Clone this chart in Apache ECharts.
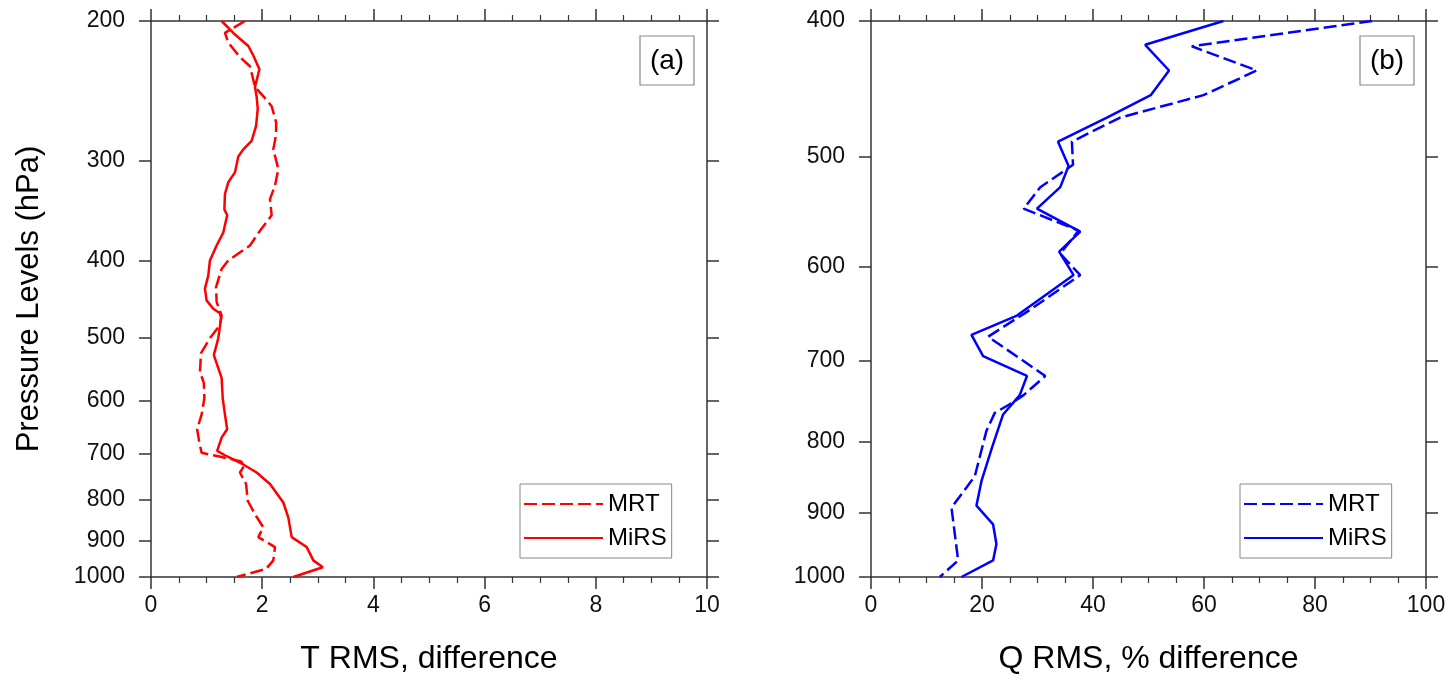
<!DOCTYPE html>
<html>
<head>
<meta charset="utf-8">
<script src="https://cdn.jsdelivr.net/npm/echarts@6/dist/echarts.min.js"></script>
<style>
html,body{margin:0;padding:0;background:#fff;}
#chart{width:1455px;height:680px;}
</style>
</head>
<body>
<div id="chart"></div>
<script>
// ---------- Data ----------
// Panel (a): temperature RMS difference vs pressure (hPa)
const tMirsP = [200,208,215,221,230,242,249,258,271,283,290,296,310,319,330,345,351,369,383,400,418,434,449,460,466,473,501,526,562,596,625,652,668,694,705,722,739,764,806,842,891,917,953,972,1000];
const tMirsX = [1.27,1.51,1.75,1.84,1.95,1.87,1.90,1.92,1.89,1.81,1.66,1.57,1.51,1.39,1.33,1.32,1.37,1.30,1.18,1.06,1.03,0.97,1.00,1.12,1.24,1.26,1.21,1.13,1.27,1.29,1.33,1.37,1.27,1.19,1.36,1.66,1.90,2.14,2.38,2.47,2.53,2.80,2.92,3.09,2.56];
const tMrtP = [200,207,213,222,228,242,250,256,268,278,290,307,322,335,351,367,383,400,410,432,451,469,482,501,523,552,570,596,625,652,678,698,705,715,722,739,764,802,834,866,891,917,953,977,1000];
const tMrtX = [1.69,1.33,1.39,1.60,1.78,1.87,2.05,2.17,2.25,2.25,2.20,2.29,2.23,2.14,2.17,1.96,1.78,1.39,1.27,1.17,1.18,1.27,1.24,1.06,0.90,0.88,0.95,0.96,0.91,0.83,0.87,0.91,1.21,1.60,1.69,1.60,1.71,1.74,1.87,2.02,1.93,2.23,2.20,2.07,1.54];

// Panel (b): humidity RMS % difference vs pressure (hPa)
const qMirsP = [400,416,434,452,469,488,508,526,545,566,585,608,650,671,695,718,741,765,808,854,889,917,947,973,1000];
const qMirsX = [63.5,49.4,53.7,50.4,42.5,33.7,35.6,34.1,29.9,37.7,33.9,36.5,26.3,18.1,20.2,28.1,26.8,23.8,21.8,19.9,19.0,22.0,22.6,22.0,16.3];
const qMrtP = [400,417,434,452,469,488,507,526,545,565,587,608,646,673,718,741,751,763,786,847,892,973,1000];
const qMrtX = [90.3,57.8,69.5,59.9,44.9,36.2,36.4,30.5,27.5,37.4,34.1,37.7,28.1,21.1,31.4,27.5,25.3,22.3,20.8,18.7,14.5,15.7,12.4];

// Tick labels
const levelsA = [200,300,400,500,600,700,800,900,1000];
const levelsB = [400,500,600,700,800,900,1000];

// ---------- Chart ----------
const FONT = '"Liberation Sans", Arial, Helvetica, sans-serif';
const AX = '#333';
const lg = Math.log10;
const pairs = (xs, ps) => ps.map((p, i) => [xs[i], lg(p)]);

function xAxes(gi, max, interval, name, pos) {
  const base = {
    type: 'value', gridIndex: gi, min: 0, max: max, interval: interval,
    axisLine: { show: true, onZero: false, lineStyle: { color: AX, width: 1.5 } },
    axisTick: { show: true, inside: false, length: 12, lineStyle: { color: AX, width: 1.5 } },
    minorTick: { show: true, splitNumber: 4, length: 6, lineStyle: { color: AX, width: 1.2 } },
    splitLine: { show: false }, minorSplitLine: { show: false },
    position: pos
  };
  if (pos === 'bottom') {
    base.name = name;
    base.nameLocation = 'middle';
    base.nameGap = 66;
    base.nameTextStyle = { fontFamily: FONT, fontSize: 32, color: '#000' };
    base.axisLabel = { show: true, margin: 17, fontFamily: FONT, fontSize: 23, color: '#111' };
  } else {
    base.axisLabel = { show: false };
  }
  return base;
}

function yAxes(gi, levels, pos, name) {
  const vals = levels.map(lg);
  const base = {
    type: 'value', gridIndex: gi, inverse: true,
    min: lg(levels[0]), max: lg(levels[levels.length - 1]),
    position: pos,
    axisLine: { show: true, onZero: false, lineStyle: { color: AX, width: 1.5 } },
    axisTick: { show: true, inside: false, length: 12, customValues: vals, lineStyle: { color: AX, width: 1.5 } },
    splitLine: { show: false },
    axisLabel: {
      show: pos === 'left', customValues: vals, margin: 26,
      fontFamily: FONT, fontSize: 23, color: '#111',
      formatter: v => String(Math.round(Math.pow(10, v)))
    }
  };
  if (name) {
    base.name = name;
    base.nameLocation = 'middle';
    base.nameGap = 106;
    base.nameTextStyle = { fontFamily: FONT, fontSize: 31, color: '#000' };
  }
  return base;
}

const dash = [13, 5];
const legendBase = {
  orient: 'vertical', top: 484, align: 'left', selectedMode: false,
  itemWidth: 79, itemHeight: 20, itemGap: 10,
  padding: [8, 5, 8, 3], borderColor: '#888', borderWidth: 1,
  itemStyle: { opacity: 0 },
  textStyle: { fontFamily: FONT, fontSize: 24, color: '#000', lineHeight: 24 }
};

const option = {
  animation: false,
  backgroundColor: '#fff',
  grid: [
    { left: 151, top: 21, width: 556, height: 559 },
    { left: 871, top: 21, width: 555, height: 559 }
  ],
  xAxis: [
    xAxes(0, 10, 2, 'T RMS, difference', 'bottom'),
    xAxes(0, 10, 2, '', 'top'),
    xAxes(1, 100, 20, 'Q RMS, % difference', 'bottom'),
    xAxes(1, 100, 20, '', 'top')
  ],
  yAxis: [
    yAxes(0, levelsA, 'left', 'Pressure Levels (hPa)'),
    yAxes(0, levelsA, 'right'),
    yAxes(1, levelsB, 'left'),
    yAxes(1, levelsB, 'right')
  ],
  legend: [
    Object.assign({}, legendBase, { left: 520, data: ['MRT', 'MiRS'] }),
    Object.assign({}, legendBase, { left: 1240, data: ['MRT (b)', 'MiRS (b)'], formatter: n => n.replace(' (b)', '') })
  ],
  graphic: [
    { type: 'rect', shape: { x: 640, y: 36, width: 54, height: 49 }, style: { fill: '#fff', stroke: '#888', lineWidth: 1.2 }, z: 10 },
    { type: 'text', x: 667, y: 61, style: { text: '(a)', font: '28px ' + FONT, fill: '#000', align: 'center', verticalAlign: 'middle' }, z: 11 },
    { type: 'rect', shape: { x: 1360, y: 36, width: 54, height: 49 }, style: { fill: '#fff', stroke: '#888', lineWidth: 1.2 }, z: 10 },
    { type: 'text', x: 1387, y: 61, style: { text: '(b)', font: '28px ' + FONT, fill: '#000', align: 'center', verticalAlign: 'middle' }, z: 11 }
  ],
  series: [
    { name: 'MRT', type: 'line', xAxisIndex: 0, yAxisIndex: 0, data: pairs(tMrtX, tMrtP), symbol: 'none', color: '#ff0000',
      lineStyle: { color: '#ff0000', width: 2.5, type: dash } },
    { name: 'MiRS', type: 'line', xAxisIndex: 0, yAxisIndex: 0, data: pairs(tMirsX, tMirsP), symbol: 'none', color: '#ff0000',
      lineStyle: { color: '#ff0000', width: 2.5, type: 'solid' } },
    { name: 'MRT (b)', type: 'line', xAxisIndex: 2, yAxisIndex: 2, data: pairs(qMrtX, qMrtP), symbol: 'none', color: '#0000ff',
      lineStyle: { color: '#0000ff', width: 2.5, type: dash } },
    { name: 'MiRS (b)', type: 'line', xAxisIndex: 2, yAxisIndex: 2, data: pairs(qMirsX, qMirsP), symbol: 'none', color: '#0000ff',
      lineStyle: { color: '#0000ff', width: 2.5, type: 'solid' } }
  ]
};

const chart = echarts.init(document.getElementById('chart'), null, { renderer: 'canvas' });
chart.setOption(option);
</script>
</body>
</html>
